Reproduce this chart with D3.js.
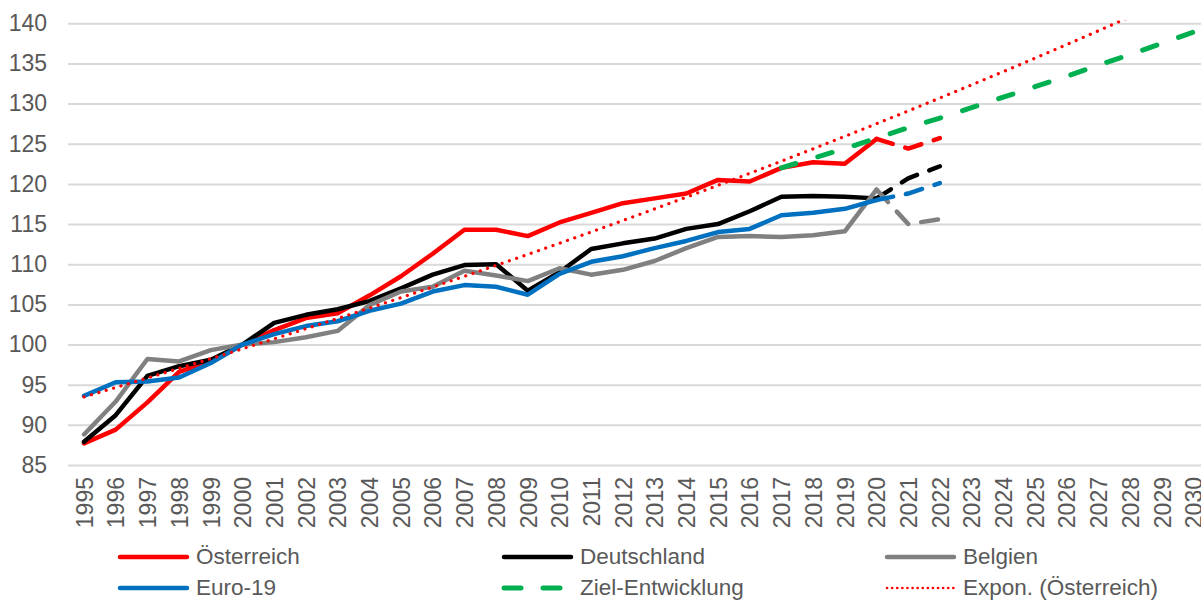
<!DOCTYPE html>
<html>
<head>
<meta charset="utf-8">
<script src="https://cdn.jsdelivr.net/npm/d3@7"></script>
<style>
  html, body { margin: 0; padding: 0; background: #fff; }
  svg { display: block; font-family: "Liberation Sans", Arial, sans-serif; }
</style>
</head>
<body>
<svg id="chart" width="1201" height="600"></svg>
<script>
// ---- data ----
const years = d3.range(1995, 2031).map(String);
const histYears = d3.range(1995, 2021).map(String);
const projYears = ["2020", "2021", "2022"];
const zielYears = d3.range(2017, 2031).map(String);

const oesterreich = [87.7, 89.4, 92.8, 96.6, 97.9, 100.0, 101.8, 103.3, 103.9, 106.1, 108.5, 111.3, 114.3, 114.3, 113.5, 115.2, 116.4, 117.6, 118.2, 118.8, 120.5, 120.3, 122.0, 122.7, 122.5, 125.6];
const deutschland = [87.9, 91.2, 96.1, 97.3, 98.1, 100.0, 102.7, 103.7, 104.4, 105.4, 107.0, 108.7, 109.9, 110.0, 106.7, 109.0, 111.9, 112.6, 113.2, 114.4, 115.0, 116.6, 118.4, 118.5, 118.4, 118.2];
const belgien = [88.8, 92.9, 98.2, 97.9, 99.3, 100.0, 100.3, 100.9, 101.7, 104.9, 106.6, 107.2, 109.2, 108.6, 107.9, 109.5, 108.7, 109.3, 110.4, 112.0, 113.4, 113.5, 113.4, 113.6, 114.1, 119.3];
const euro19 = [93.6, 95.3, 95.4, 95.9, 97.7, 100.0, 101.3, 102.3, 102.9, 104.2, 105.1, 106.6, 107.4, 107.2, 106.2, 108.8, 110.3, 111.0, 112.0, 112.9, 114.0, 114.4, 116.1, 116.4, 116.9, 118.0];

// projections (dashed part of each series), starting at 2020
const oesterreichProj = [125.6, 124.4, 125.7];
const deutschlandProj = [118.2, 120.7, 122.2];
const belgienProj = [119.3, 115.0, 115.6];
const euro19Proj = [118.0, 118.8, 120.1];

const ziel = [122.0, 123.2, 124.4, 125.7, 127.0, 128.2, 129.5, 130.8, 132.1, 133.4, 134.8, 136.1, 137.5, 138.9];

const yTicks = [85, 90, 95, 100, 105, 110, 115, 120, 125, 130, 135, 140];

const legendLabels = ["Österreich", "Deutschland", "Belgien", "Euro-19", "Ziel-Entwicklung", "Expon. (Österreich)"];

// ---- layout ----
const svg = d3.select("#chart");
const plotLeft = 68, plotTop = 23.3, plotBottom = 465;
const FS = 23;
const LFS = 22.5;

const x = d3.scalePoint().domain(years).range([84, 84 + 35 * 31.7]);
const y = d3.scaleLinear().domain([85, 140]).range([plotBottom, plotTop]);

const textColor = "#595959";
const colors = {
  oe: "#ff0000", de: "#000000", be: "#808080", eu: "#0070c0", ziel: "#00b050"
};

svg.append("defs").append("clipPath").attr("id", "plotclip")
  .append("rect").attr("x", plotLeft).attr("y", plotTop - 3)
  .attr("width", 1201 - plotLeft).attr("height", plotBottom - plotTop + 3);

// y axis with grid
const yAxis = d3.axisLeft(y).tickValues(yTicks).tickSizeInner(-(1201 - plotLeft)).tickSizeOuter(0).tickPadding(21);
const gy = svg.append("g").attr("transform", `translate(${plotLeft},0)`).call(yAxis);
gy.select(".domain").remove();
gy.selectAll(".tick line").attr("stroke", "#d9d9d9").attr("stroke-width", 2);
gy.selectAll(".tick text").attr("fill", textColor).attr("font-size", FS)
  .attr("font-family", "'Liberation Sans', Arial, sans-serif");

// x axis
const xAxis = d3.axisBottom(x).tickSize(0).tickPadding(0);
const gx = svg.append("g").attr("transform", `translate(0,${plotBottom})`).call(xAxis);
gx.select(".domain").remove();
gx.selectAll(".tick text")
  .attr("fill", textColor).attr("font-size", FS)
  .attr("font-family", "'Liberation Sans', Arial, sans-serif")
  .attr("transform", "rotate(-90)")
  .attr("text-anchor", "end")
  .attr("x", -12).attr("y", 0).attr("dy", "0.36em");

const plot = svg.append("g").attr("clip-path", "url(#plotclip)");

function drawLine(xs, vals, color, opts = {}) {
  const data = xs.map((k, i) => [k, vals[i]]);
  const line = d3.line().x(d => x(d[0])).y(d => y(d[1]));
  return plot.append("path").datum(data)
    .attr("d", line)
    .attr("fill", "none")
    .attr("stroke", color)
    .attr("stroke-width", opts.width || 4.5)
    .attr("stroke-linejoin", "round")
    .attr("stroke-linecap", opts.cap || "round")
    .attr("stroke-dasharray", opts.dash || null);
}

drawLine(histYears, oesterreich, colors.oe);
drawLine(histYears, deutschland, colors.de);
drawLine(histYears, belgien, colors.be);
drawLine(histYears, euro19, colors.eu);

const projDash = "17,13";
drawLine(projYears, oesterreichProj, colors.oe, { dash: projDash });
drawLine(projYears, deutschlandProj, colors.de, { dash: projDash });
drawLine(projYears, belgienProj, colors.be, { dash: projDash });
drawLine(projYears, euro19Proj, colors.eu, { dash: projDash });

drawLine(zielYears, ziel, colors.ziel, { dash: "15,23", width: 5 });

// exponential trendline of the whole Österreich series (1995-2022), Excel style, extended to 2030
const oeAll = oesterreich.concat(oesterreichProj.slice(1));
const ts = d3.range(1, oeAll.length + 1);
const lys = oeAll.map(v => Math.log(v));
const tm = d3.mean(ts), lm = d3.mean(lys);
const b = d3.sum(ts.map((t, i) => (t - tm) * (lys[i] - lm))) / d3.sum(ts.map(t => (t - tm) * (t - tm)));
const a = lm - b * tm;
const trendVals = years.map((k, i) => Math.exp(a + b * (i + 1)));
drawLine(years, trendVals, colors.oe, { dash: "0.1,7.6", width: 3.2 });

// legend
const legend = svg.append("g");
const legendItems = [
  { label: legendLabels[0], color: colors.oe, x: 118, y: 557 },
  { label: legendLabels[1], color: colors.de, x: 502, y: 557 },
  { label: legendLabels[2], color: colors.be, x: 885, y: 557 },
  { label: legendLabels[3], color: colors.eu, x: 118, y: 588 },
  { label: legendLabels[4], color: colors.ziel, x: 502, y: 588, dash: "17,22", width: 5 },
  { label: legendLabels[5], color: colors.oe, x: 885, y: 588, dash: "0.1,5", width: 2.6 }
];
legendItems.forEach(it => {
  legend.append("line")
    .attr("x1", it.x + 2).attr("x2", it.x + 69)
    .attr("y1", it.y).attr("y2", it.y)
    .attr("stroke", it.color)
    .attr("stroke-width", it.width || 4.5)
    .attr("stroke-linecap", "round")
    .attr("stroke-dasharray", it.dash || null);
  legend.append("text")
    .attr("x", it.x + 78).attr("y", it.y).attr("dy", "0.32em")
    .attr("fill", textColor).attr("font-size", LFS)
    .text(it.label);
});
</script>
</body>
</html>
